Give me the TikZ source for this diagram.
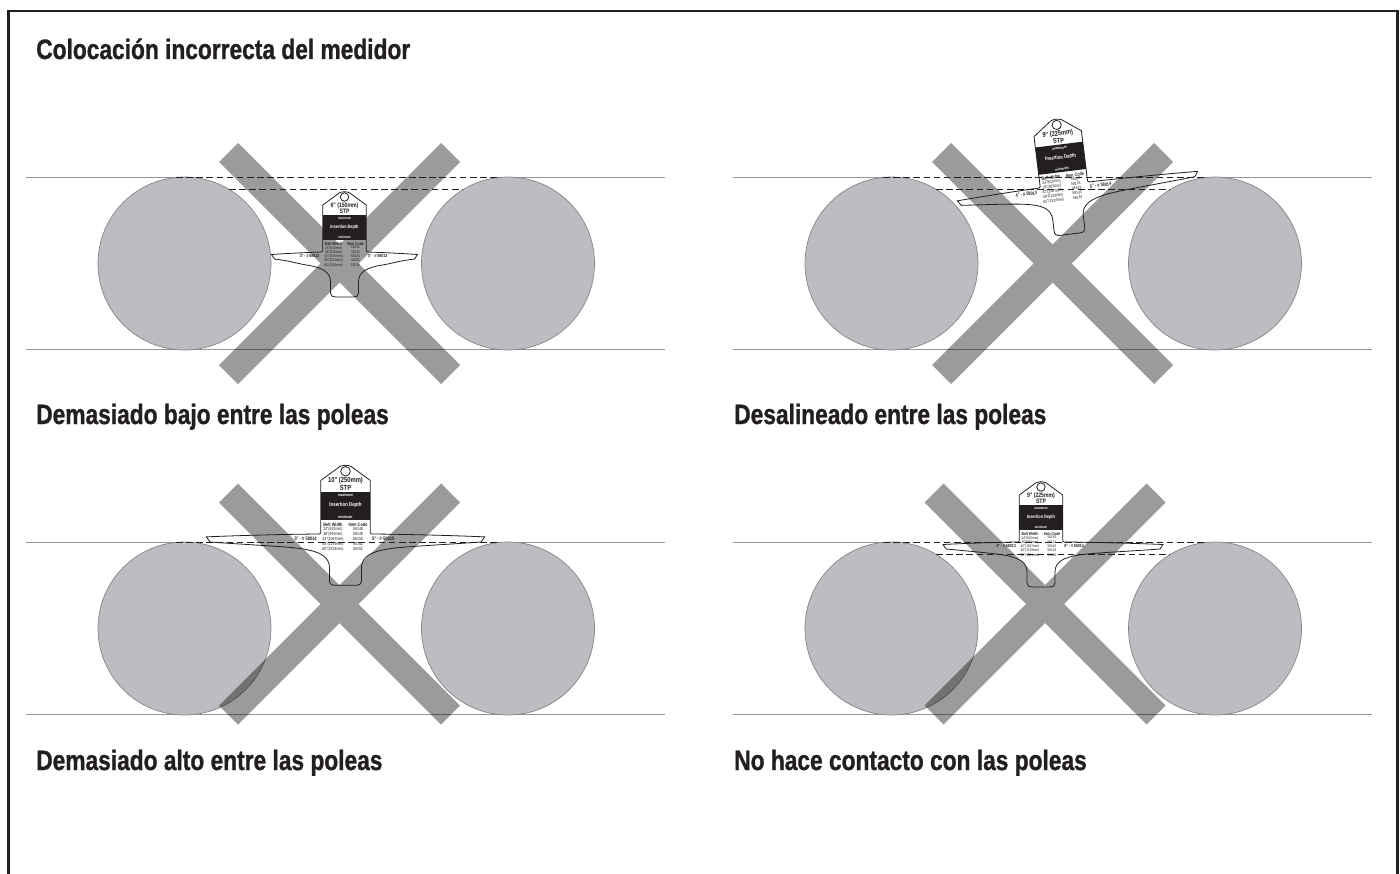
\documentclass[tikz,border=0pt]{standalone}
\usepackage{fontspec}
\setmainfont[FakeStretch=0.812,BoldFeatures={FakeBold=1}]{Liberation Sans}
\newfontfamily\metfont[FakeStretch=0.8]{Liberation Sans}
\usetikzlibrary{calc}

\definecolor{tinta}{HTML}{231F20}
\definecolor{polea}{HTML}{BBBDC0}
\definecolor{borde}{HTML}{808285}
\definecolor{correa}{HTML}{939598}
\definecolor{aspa}{HTML}{9C9A9A}

\tikzset{
  titulo/.style={anchor=base west, inner sep=0pt, text=tinta, font=\fontsize{21}{24}\selectfont\bfseries},
  correaline/.style={draw=correa, line width=0.75pt},
  poleacircle/.style={fill=polea, draw=borde, line width=0.5pt},
  dashline/.style={draw=tinta, line width=0.65pt, dash pattern=on 5pt off 2.6pt},
  meterline/.style={draw=tinta, line width=0.6pt},
  metertext/.style={inner sep=0pt, transform shape, text=tinta, font=\metfont\fontsize{4.8}{5.4}\selectfont\bfseries},
  bandtext/.style={inner sep=0pt, transform shape, text=white, font=\metfont\fontsize{3.6}{4}\selectfont\bfseries},
  smalltext/.style={inner sep=0pt, transform shape, text=white, font=\metfont\fontsize{2.6}{3}\selectfont\bfseries},
  headtext/.style={inner sep=0pt, transform shape, text=tinta, font=\metfont\fontsize{3.2}{3.6}\selectfont\bfseries},
  rowtext/.style={inner sep=0pt, transform shape, text=tinta, align=center, font=\metfont\fontsize{2.9}{3.22}\selectfont},
  wingtext/.style={inner sep=0pt, transform shape, text=tinta, font=\metfont\fontsize{3.3}{3.8}\selectfont\bfseries},
}

% #1 scope options, #2/#3 left and right wing, #4 size, #5/#6 wing labels, #7 codes
\newcommand{\meter}[7]{%
  \begin{scope}[#1]
    \fill[tinta] (-21.7,-37) rectangle (21.7,-12);
    \draw[meterline] (-21.7,-1) -- (-21.7,-47) -- (-5,-59.2)
      .. controls (-2,-60.6) and (2,-60.6) .. (5,-59.2) -- (21.7,-47) -- (21.7,-1)
      .. controls (21.7,0) .. (23,0)
      .. controls (#3*.4,0.2) and (#3*.7,1) .. (#3,2.5) -- (#3-3,7)
      .. controls (#3*.7,9.5) and (50,11) .. (38,13)
      .. controls (22,15.5) and (14,20) .. (14,30) -- (14,41)
      .. controls (14,44) and (12,45) .. (9,45) -- (-9,45)
      .. controls (-12,45) and (-14,44) .. (-14,41) -- (-14,30)
      .. controls (-14,20) and (-22,15.5) .. (-38,13)
      .. controls (-50,11) and (-#2*.7,9.5) .. (-#2+3,7) -- (-#2,2.5)
      .. controls (-#2*.7,1) and (-#2*.4,0.2) .. (-23,0)
      .. controls (-21.7,0) .. (-21.7,-1);
    \draw[meterline] (0,-55) circle (4.2);
    \node[metertext] (size) at (0,-46.6) {#4};
    \node[metertext] (stp) at (0,-40.4) {STP};
    \node[smalltext] (max) at (0,-33.8) {maximum};
    \node[bandtext] (depth) at (0,-25) {Insertion Depth};
    \node[smalltext] (min) at (0,-14.8) {minimum};
    \node[headtext] (belt) at (-11,-8) {Belt Width};
    \node[headtext] (item) at (11,-8) {Item Code};
    \node[rowtext, anchor=north] (rows) at (-11,-6) {24"(610mm)\\36"(915mm)\\42"(1067mm)\\48"(1219mm)\\60"(1524mm)};
    \node[rowtext, anchor=north] (codes) at (11,-6) {#7};
    \node[wingtext] (left) at (-35,4.2) {#5};
    \node[wingtext] (right) at (33,4.2) {#6};
  \end{scope}%
}

\begin{document}
\begin{tikzpicture}[x=0.75pt, y=-0.75pt]
  \useasboundingbox (0,0) rectangle (1400,874);

  % marco
  \draw[tinta, line width=2pt] (8.7,874) -- (8.7,11) -- (1397.5,11) -- (1397.5,874);

  \node[titulo] (medidor) at (36,59) {Colocación incorrecta del medidor};

  % correas, poleas y aspas
  \foreach \dx/\dy/\cx/\cy in {0/0/339.5/263.5, 707/0/1052.5/263.5, 0/365/339.5/604, 707/365/1045/604}{
    \begin{scope}[shift={(\dx,\dy)}]
      \draw[correaline] (26,177.5) -- (176,177.5);
      \draw[correaline] (497,177.5) -- (665,177.5);
      \draw[correaline] (26,349.5) -- (665,349.5);
      \fill[poleacircle] (184.5,263.5) circle (86.5);
      \fill[poleacircle] (508,263.5) circle (86.5);
    \end{scope}
    \begin{scope}[shift={(\cx,\cy)}]
      \fill[aspa, blend mode=multiply] (-120.5,-101.5) -- (-101.5,-120.5) -- (0,-19) -- (101.5,-120.5)
        -- (120.5,-101.5) -- (19,0) -- (120.5,101.5) -- (101.5,120.5) -- (0,19)
        -- (-101.5,120.5) -- (-120.5,101.5) -- (-19,0) -- cycle;
    \end{scope}
    \begin{scope}[shift={(\dx,\dy)}]
      \draw[dashline] (176,177.5) -- (497,177.5);
    \end{scope}
  }

  \draw[dashline] (229,189.5) -- (463,189.5);
  \draw[dashline] (936,189.5) -- (1170,189.5);
  \draw[dashline] (936,554.5) -- (1170,554.5);

  \meter{name prefix=a-, shift={(344.5,252)}}{73}{73}{6" (150mm)}{3" - \# 58012}{3" - \# 58013}{58132\\58133\\58134\\58135\\58136}
  \meter{name prefix=b-, shift={(1064,185)}, rotate=7, scale=1.1}{98}{122}{9" (225mm)}{4" - \# 58013}{5" - \# 58014}{58140\\58141\\58142\\58143\\58144}
  \meter{name prefix=c-, shift={(345.5,534)}, scale=1.14}{122}{122}{10" (250mm)}{5" - \# 58014}{5" - \# 58015}{58148\\58149\\58150\\58151\\58152}
  \meter{name prefix=d-, shift={(1041,542)}}{98}{122}{9" (225mm)}{4" - \# 58013}{5" - \# 58014}{58140\\58141\\58142\\58143\\58144}

  \node[titulo] (bajo) at (36,424) {Demasiado bajo entre las poleas};
  \node[titulo] (desalineado) at (734,424) {Desalineado entre las poleas};
  \node[titulo] (alto) at (36,770) {Demasiado alto entre las poleas};
  \node[titulo] (contacto) at (734,770) {No hace contacto con las poleas};
\end{tikzpicture}
\end{document}
